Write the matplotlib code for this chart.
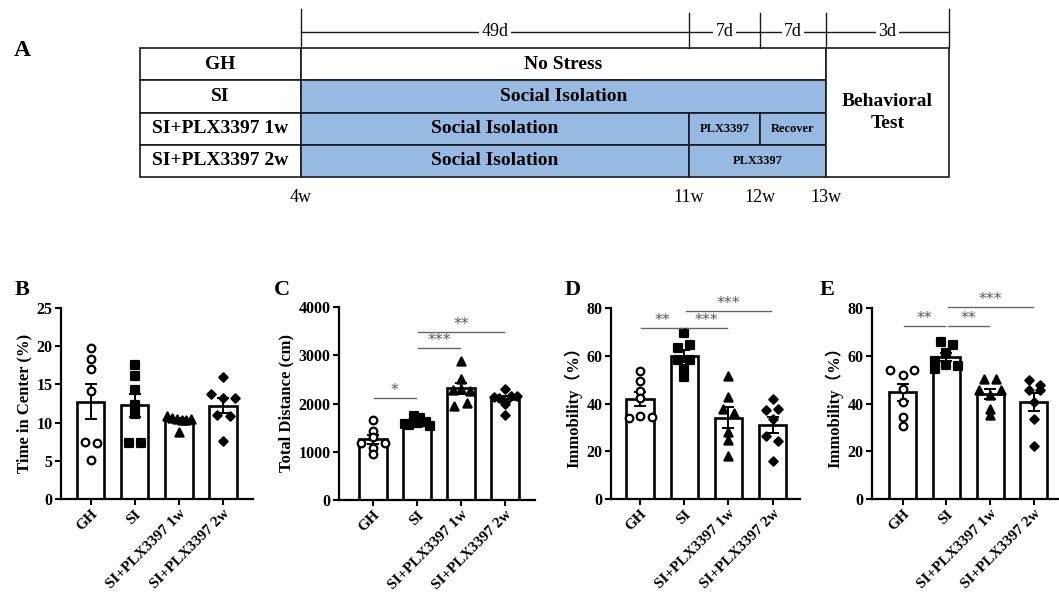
import numpy as np
import matplotlib
matplotlib.use("Agg")
import matplotlib.pyplot as plt
from matplotlib.patches import Rectangle

plt.rcParams['font.family'] = ['Liberation Serif', 'Noto Sans CJK SC', 'DejaVu Sans']
plt.rcParams['font.weight'] = 'bold'
plt.rcParams['axes.labelweight'] = 'bold'

# ---- panel A: experiment schedule ----
schedule_groups = ["GH", "SI", "SI+PLX3397 1w", "SI+PLX3397 2w"]
schedule_stages = [
    [("No Stress", 4, 13, False)],
    [("Social Isolation", 4, 13, True)],
    [("Social Isolation", 4, 11, True), ("PLX3397", 11, 12, True), ("Recover", 12, 13, True)],
    [("Social Isolation", 4, 11, True), ("PLX3397", 11, 13, True)],
]
week_marks = [4, 11, 12, 13]
week_labels = ["4w", "11w", "12w", "13w"]
durations = ["49d", "7d", "7d", "3d"]
test_label = "Behavioral\nTest"

# ---- panels B-E ----
groups = ["GH", "SI", "SI+PLX3397 1w", "SI+PLX3397 2w"]

center_time = [
    [19.8, 18.3, 17.0, 14.1, 7.5, 7.3, 5.1],
    [17.5, 16.1, 14.3, 12.3, 11.1, 7.3, 7.3],
    [10.8, 10.6, 10.5, 10.4, 10.4, 10.5, 8.8],
    [16.0, 13.7, 13.2, 13.2, 11.0, 10.9, 7.65],
]
total_distance = [
    [1655, 1434, 1310, 1186, 1186, 1069, 952],
    [1745, 1690, 1620, 1580, 1560, 1600, 1540],
    [2876, 2517, 2300, 2270, 2260, 1945, 2014],
    [2310, 2140, 2120, 2150, 2150, 1986, 1759],
]
immobility_d = [
    [53.8, 49.4, 45.2, 42.3, 34.1, 34.8, 34.2],
    [69.4, 64.4, 63.2, 58.2, 58.2, 54.5, 51.3],
    [51.6, 42.8, 37.9, 35.9, 27.9, 24.8, 17.9],
    [41.9, 37.2, 37.9, 33.4, 26.2, 24.1, 16.1],
]
immobility_e = [
    [54.1, 54.1, 52.1, 46.2, 40.7, 34.5, 30.6],
    [65.9, 64.6, 61.0, 57.9, 56.1, 55.6, 54.5],
    [50.1, 50.1, 45.8, 45.8, 43.7, 37.5, 35.2],
    [49.9, 47.9, 45.5, 45.5, 40.7, 33.5, 22.1],
]

# significance: (group i, group j, height, stars)
sig_c = [(0, 1, 2120, "*"), (1, 2, 3140, "***"), (1, 3, 3490, "**")]
sig_d = [(0, 1, 71.7, "**"), (1, 2, 71.7, "***"), (1, 3, 78.8, "***")]
sig_e = [(0, 1, 72.4, "**"), (1, 2, 72.4, "**"), (1, 3, 80.4, "***")]

# horizontal scatter of dots (category units)
jit_b = [[0, 0, 0, 0, -0.13, 0.14, 0], [0, 0, 0, 0, 0, -0.13, 0.14],
         [-0.27, -0.16, -0.05, 0.07, 0.17, 0.27, 0], [0, -0.27, 0, 0.27, -0.14, 0.15, 0]]
jit_c = [[0, 0, 0, -0.28, 0.27, 0, 0], [-0.07, 0.06, 0.21, -0.28, -0.17, 0.02, 0.29],
         [0, 0, 0, -0.19, 0.21, -0.15, 0.14], [0, -0.26, -0.13, 0.14, 0.27, 0, 0]]
jit_d = [[0, 0, 0, 0, -0.26, 0, 0.27], [0, 0.12, -0.14, -0.14, 0.12, 0, 0],
         [0, 0, -0.13, 0.13, 0, 0, 0], [0, -0.14, 0.13, 0, -0.14, 0.13, 0]]
jit_e = [[-0.28, 0.26, 0, 0, 0, 0, 0], [-0.13, 0.14, 0, -0.25, 0, 0.26, -0.25],
         [-0.14, 0.13, -0.26, 0.25, 0, 0, 0], [-0.12, 0.13, -0.12, 0.13, 0, 0, 0]]

BLUE = "#97BAE3"
EDGE = "#1a1a1a"

fig = plt.figure(figsize=(10.59, 6.02), dpi=100)

# schedule drawn in pixel coordinates
ax_a = fig.add_axes([0, 0, 1, 1], zorder=0)
ax_a.set_xlim(0, 1059)
ax_a.set_ylim(602, 0)
ax_a.axis("off")

week_px = dict(zip(week_marks, [301, 689, 760, 826]))
label_left, test_right = 140, 949
row_y = np.linspace(48, 177, 5)
line_y = 32

for r, name in enumerate(schedule_groups):
    y0, y1 = row_y[r], row_y[r + 1]
    ax_a.add_patch(Rectangle((label_left, y0), week_px[4] - label_left, y1 - y0,
                             facecolor="white", edgecolor=EDGE, lw=1.2))
    ax_a.text((label_left + week_px[4]) / 2, (y0 + y1) / 2, name, ha="center",
              va="center", fontsize=14)
    for txt, w0, w1, filled in schedule_stages[r]:
        x0, x1 = week_px[w0], week_px[w1]
        ax_a.add_patch(Rectangle((x0, y0), x1 - x0, y1 - y0,
                                 facecolor=BLUE if filled else "white",
                                 edgecolor=EDGE, lw=1.2))
        fs = 14 if txt in ("No Stress", "Social Isolation") else 9
        ax_a.text((x0 + x1) / 2, (y0 + y1) / 2, txt, ha="center", va="center",
                  fontsize=fs)

ax_a.add_patch(Rectangle((week_px[13], row_y[0]), test_right - week_px[13],
                         row_y[-1] - row_y[0], facecolor="white", edgecolor=EDGE, lw=1.2))
ax_a.text((week_px[13] + test_right) / 2, (row_y[0] + row_y[-1]) / 2, test_label,
          ha="center", va="center", fontsize=14, linespacing=1.35)

# timeline above the table
ax_a.plot([week_px[4], test_right], [line_y, line_y], color=EDGE, lw=1.0)
ticks_px = [week_px[w] for w in week_marks] + [test_right]
for i, xp in enumerate(ticks_px):
    top = 9 if i in (0, len(ticks_px) - 1) else 13
    ax_a.plot([xp, xp], [top, row_y[0]], color=EDGE, lw=1.0)
for i, d in enumerate(durations):
    xm = (ticks_px[i] + ticks_px[i + 1]) / 2
    ax_a.text(xm, line_y, d, ha="center", va="center", fontsize=13, fontweight="normal",
              bbox=dict(facecolor="white", edgecolor="none", pad=1.5))
for w, lab in zip(week_marks, week_labels):
    ax_a.text(week_px[w], 197, lab, ha="center", va="center", fontsize=13,
              fontweight="normal")
ax_a.text(22, 50, "A", ha="center", va="center", fontsize=17)

# ---- bar panels ----
markers = [("o", "white", 30), ("s", "black", 28), ("^", "black", 34), ("D", "black", 18)]


def draw_panel(rect, values, jit, ylim, yticks, ylabel, xlim, sigs=None):
    ax = fig.add_axes(rect, zorder=2)
    ax.patch.set_alpha(0)
    x = np.arange(len(groups))
    means = [np.mean(v) for v in values]
    sems = [np.std(v, ddof=1) / np.sqrt(len(v)) for v in values]
    ax.bar(x, means, width=0.62, color="white", edgecolor="black", linewidth=1.9, zorder=1)
    ax.errorbar(x, means, yerr=sems, fmt="none", ecolor="black", elinewidth=1.4,
                capsize=4.3, capthick=1.4, zorder=2)
    for i, v in enumerate(values):
        m, fc, s = markers[i]
        ax.scatter(np.full(len(v), x[i]) + np.array(jit[i]), v, marker=m, s=s,
                   facecolor=fc, edgecolor="black", linewidths=1.6, zorder=3)
    if sigs:
        for i, j, h, stars in sigs:
            ax.plot([i + 0.03, j - 0.03], [h, h], color="#666666", lw=1.0,
                    clip_on=False, zorder=4)
            ax.text((i + j) / 2, h, stars, ha="center", va="bottom", fontsize=11.5,
                    color="#555555", family="DejaVu Sans", fontweight="normal")
    ax.set_xlim(*xlim)
    ax.set_ylim(*ylim)
    ax.set_yticks(yticks)
    ax.set_xticks(x)
    ax.set_xticklabels(groups, rotation=45, ha="right", rotation_mode="anchor",
                       fontsize=11, fontweight="bold")
    ax.set_ylabel(ylabel, fontsize=12, labelpad=3, fontweight="bold")
    ax.tick_params(direction="out", length=4, width=1.5, pad=2)
    ax.tick_params(axis="y", labelsize=11.5)
    for t in ax.get_yticklabels():
        t.set_fontweight("bold")
    for sp in ("top", "right"):
        ax.spines[sp].set_visible(False)
    for sp in ("left", "bottom"):
        ax.spines[sp].set_linewidth(1.6)
    return ax


def frac(x0, x1, ytop, ybot):
    return [x0 / 1059, (602 - ybot) / 602, (x1 - x0) / 1059, (ybot - ytop) / 602]


draw_panel(frac(61, 253, 308, 499), center_time, jit_b, (0, 25), [0, 5, 10, 15, 20, 25],
           "Time in Center (%)", (-0.67, 3.68))
draw_panel(frac(339, 535, 307, 500), total_distance, jit_c, (0, 4000),
           [0, 1000, 2000, 3000, 4000], "Total Distance (cm)", (-0.77, 3.68), sig_c)
draw_panel(frac(611, 800, 308, 499), immobility_d, jit_d, (0, 80), [0, 20, 40, 60, 80],
           "Immobility（%）", (-0.66, 3.62), sig_d)
draw_panel(frac(872, 1058, 308, 499), immobility_e, jit_e, (0, 80), [0, 20, 40, 60, 80],
           "Immobility（%）", (-0.70, 3.55), sig_e)

for letter, xp in zip("BCDE", [22, 282, 573, 827]):
    fig.text(xp / 1059, 1 - 290 / 602, letter, ha="center", va="center", fontsize=16)

fig.savefig("out.png", dpi=100)
